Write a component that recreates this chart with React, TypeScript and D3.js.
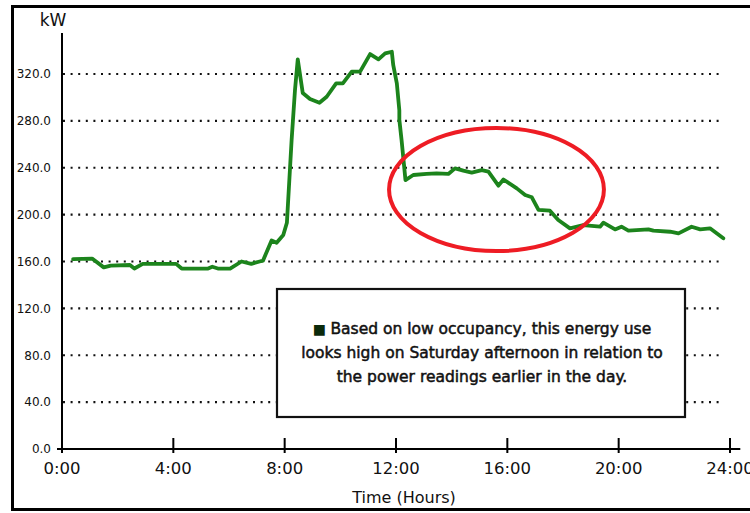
import React from "react";
import * as d3 from "d3";

const hours = [0.4, 1.08, 1.5, 1.75, 2.44, 2.6, 2.9, 4.1, 4.3, 5.25, 5.4, 5.6, 6.04, 6.45, 6.8, 7.1, 7.22, 7.53, 7.71, 7.95, 8.08, 8.25, 8.37, 8.47, 8.65, 8.91, 9.25, 9.51, 9.85, 10.09, 10.41, 10.71, 11.07, 11.37, 11.61, 11.85, 11.9, 12.03, 12.12, 12.12, 12.2, 12.34, 12.62, 13.1, 13.46, 13.88, 14.12, 14.42, 14.72, 15.08, 15.32, 15.68, 15.86, 16.34, 16.64, 16.88, 17.12, 17.53, 17.83, 18.25, 18.73, 19.33, 19.45, 19.87, 20.1, 20.35, 21.07, 21.25, 21.85, 22.15, 22.62, 22.93, 23.28, 23.76];
const kw = [162, 162.5, 155, 156.5, 157, 154, 158, 158, 154, 154, 155.5, 154, 154, 160, 158, 160, 160.7, 178, 176, 182.6, 193, 263.7, 306, 332.5, 303.8, 298.6, 295.5, 300.6, 312, 312, 322, 322, 337, 332.5, 337.6, 339, 327.7, 312, 289, 281, 263.7, 229.5, 233.8, 234.7, 235.2, 234.7, 239.5, 237.5, 235.8, 238, 236.7, 224.7, 230, 222.4, 216.7, 214.8, 204, 203.4, 195.4, 188.3, 191.1, 189.7, 193.1, 187.4, 189.7, 186.3, 187.4, 186.3, 185.4, 184, 189.7, 187.4, 188.3, 179.8];

const xTicks = [0, 4, 8, 12, 16, 20, 24];
const xTickLabels = ["0:00", "4:00", "8:00", "12:00", "16:00", "20:00", "24:00"];
const yTicks = [0, 40, 80, 120, 160, 200, 240, 280, 320];
const yTickLabels = ["0.0", "40.0", "80.0", "120.0", "160.0", "200.0", "240.0", "280.0", "320.0"];
const noteLines = [
  "Based on low occupancy, this energy use",
  "looks high on Saturday afternoon in relation to",
  "the power readings earlier in the day.",
];
// highlight ellipse in data units: center hour, center kW, radius hours, radius kW
const highlight = [15.61, 221.4, 3.86, 52.5];

const FONT = "'DejaVu Sans', 'Liberation Sans', Arial, sans-serif";

export default function App() {
  const x = d3.scaleLinear().domain([0, 24]).range([62, 730]);
  const y = d3.scaleLinear().domain([0, 320]).range([449, 74]);
  const pts: [number, number][] = hours.map((h, i) => [h, kw[i]]);
  const line = d3
    .line<[number, number]>()
    .x((d) => x(d[0]))
    .y((d) => y(d[1]));

  const [ch, cv, rh, rv] = highlight;
  const ex = x(ch);
  const ey = y(cv);
  const erx = x(ch + rh) - x(ch);
  const ery = y(cv - rv) - y(cv);

  return (
    <svg
      width={750}
      height={513}
      style={{ position: "absolute", left: 0, top: 0, background: "#fff" }}
    >
      <rect x={0} y={0} width={750} height={513} fill="#fff" />
      {/* frame */}
      <rect x={12.5} y={6.5} width={760} height={503} fill="none" stroke="#000" strokeWidth={3} />

      {/* grid lines */}
      {yTicks.slice(1).map((t) => (
        <line
          key={t}
          x1={63}
          x2={721}
          y1={y(t)}
          y2={y(t)}
          stroke="#111"
          strokeWidth={2.2}
          strokeDasharray="2 5.6"
        />
      ))}

      {/* y tick labels */}
      {yTicks.map((t, i) => (
        <text
          key={t}
          x={51}
          y={y(t)}
          dy="0.36em"
          textAnchor="end"
          fontFamily={FONT}
          fontSize={12}
          fill="#111"
        >
          {yTickLabels[i]}
        </text>
      ))}
      <text x={53} y={26} textAnchor="middle" fontFamily={FONT} fontSize={17} fill="#111">
        kW
      </text>

      {/* axes */}
      <line x1={x(0)} x2={x(0)} y1={y(355)} y2={y(0) + 4} stroke="#000" strokeWidth={2} />
      <line x1={57} x2={x(24.37)} y1={y(0)} y2={y(0)} stroke="#000" strokeWidth={2} />
      {xTicks.map((t, i) => (
        <g key={t}>
          {i > 0 && (
            <line x1={x(t)} x2={x(t)} y1={y(0) - 11} y2={y(0) + 4} stroke="#000" strokeWidth={2} />
          )}
          <text
            x={x(t)}
            y={474}
            textAnchor="middle"
            fontFamily={FONT}
            fontSize={16.5}
            fill="#111"
          >
            {xTickLabels[i]}
          </text>
        </g>
      ))}
      <text x={404} y={503} textAnchor="middle" fontFamily={FONT} fontSize={16} fill="#111">
        Time (Hours)
      </text>

      {/* note box */}
      <rect x={277} y={289} width={408} height={128} fill="#fff" stroke="#111" strokeWidth={2.2} />
      {noteLines.map((s, i) => (
        <text
          key={i}
          x={482}
          y={334 + i * 24}
          textAnchor="middle"
          fontFamily={FONT}
          fontSize={15.5}
          fill="#111"
          stroke="#111"
          strokeWidth={0.5}
        >
          {i === 0 && (
            <tspan fontSize={14} fill="#0b2a0b" stroke="none">
              {"\u25A0 "}
            </tspan>
          )}
          {s}
        </text>
      ))}

      {/* data line */}
      <path
        d={line(pts) || ""}
        fill="none"
        stroke="#1c841c"
        strokeWidth={3.8}
        strokeLinejoin="round"
        strokeLinecap="round"
      />

      {/* highlight ellipse */}
      <ellipse cx={ex} cy={ey} rx={erx} ry={ery} fill="none" stroke="#ee1c24" strokeWidth={4} />
    </svg>
  );
}
